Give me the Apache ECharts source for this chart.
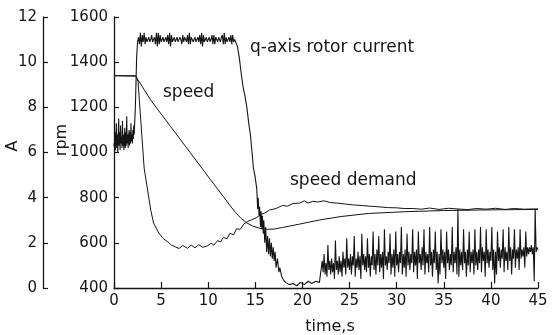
<!DOCTYPE html>
<html>
<head>
<meta charset="utf-8">
<script src="https://cdn.jsdelivr.net/npm/echarts@6/dist/echarts.min.js"></script>
<style>
  html, body { margin: 0; padding: 0; background: #fff; }
  #chart { width: 552px; height: 335px; }
</style>
</head>
<body>
<div id="chart"></div>
<script>
// axis ticks
const timeTicks = { min: 0, max: 45, interval: 5 };
const rpmTicks = { min: 400, max: 1600, interval: 200 };
const ampTicks = { min: 0, max: 12, interval: 2 };

// speed (rpm)
const speedT = [0, 2.3, 3.9, 6, 8.1, 10.2, 11.6, 12.3, 12.9, 13.5, 14.1, 14.7, 15.4, 16.2, 17.0, 17.9, 19.7, 21.8, 24, 27, 31, 35, 40, 45];
const speedV = [1340, 1338, 1232, 1115, 999, 882, 805, 766, 734, 708, 688, 675, 665, 660, 661, 668, 683, 701, 716, 730, 738, 743, 746, 748];

// speed demand (rpm)
const demandT = [0, 2.3, 2.55, 3.2, 3.9, 4.2, 4.75, 5.2, 5.7, 6.1, 6.5, 6.9, 7.3, 7.8, 8.2, 8.6, 9.0, 9.4, 9.9, 10.3,
  10.6, 11.0, 11.3, 11.6, 12.0, 12.3, 12.7, 13.0, 13.4, 13.8, 14.2, 14.6, 15.15, 15.6, 16.0, 16.5, 17.2, 17.9, 18.4, 19.0,
  19.7, 20.2, 20.6, 21.1, 21.6, 22.3, 23, 23.7, 24.5, 25.4, 26.4, 27.2, 28, 29, 30, 30.8, 31.7, 32.6, 33.5, 34.5,
  35.5, 36.5, 37.5, 38.5, 39.5, 40.5, 41.5, 42.5, 43.5, 44.5, 45];
const demandV = [1340, 1340, 1315, 931, 745, 688, 643, 620, 604, 590, 582, 575, 588, 576, 590, 578, 592, 580, 586, 598,
  590, 610, 604, 624, 618, 642, 636, 662, 660, 684, 695, 702, 712, 726, 732, 745, 752, 766, 762, 774,
  776, 786, 776, 784, 781, 786, 778, 776, 772, 768, 765, 762, 760, 756, 755, 752, 752, 749, 754, 748,
  753, 750, 747, 752, 749, 753, 748, 752, 749, 750, 750];

// q-axis rotor current (A), sampled pieces
const currentPreStep = 0.05; // t = 0 .. 2.25
const currentPre = [6.4, 6.2, 6.9, 6.1, 6.6, 7.3, 6.2, 6.8, 6.0, 6.7, 7.5, 6.3, 6.9, 6.1, 7.2, 6.4, 6.7, 6.2, 7.4, 6.3,
  6.8, 6.1, 6.6, 7.1, 6.2, 6.9, 6.3, 7.6, 6.4, 6.8, 6.2, 6.7, 7.0, 6.3, 6.9, 6.4, 7.3, 6.5, 6.8, 6.4,
  7.0, 6.6, 7.2, 6.8, 7.4, 7.8];
const currentRiseT = [2.3, 2.4, 2.5];
const currentRiseV = [8.5, 10.2, 10.9];
const currentPlateauStart = 2.6; // step 0.1
const currentPlateau = [
  11.1, 10.8, 11.3, 10.7, 11.2, 10.9, 11.3, 10.8, 11.1, 10.9,
  11.0, 11.1, 10.9, 11.0, 11.2, 10.9, 11.0, 11.1, 10.8, 11.3,
  10.7, 11.3, 10.8, 11.2, 10.9, 11.0, 11.1, 10.9, 11.0, 11.1,
  10.9, 11.2, 10.8, 11.3, 10.7, 11.2, 10.9, 11.0, 11.1, 10.9,
  11.0, 11.1, 10.9, 11.0, 11.1, 11.0, 10.8, 11.2, 10.9, 11.1,
  11.0, 10.9, 11.2, 10.8, 11.3, 10.8, 11.1, 11.0, 10.9, 11.0,
  11.1, 10.9, 11.0, 11.1, 10.9, 11.2, 10.8, 11.3, 10.7, 11.2,
  10.9, 11.0, 11.1, 10.9, 11.0, 11.1, 10.9, 11.0, 11.2, 10.8,
  11.2, 10.8, 11.1, 11.0, 10.9, 11.1, 11.0, 10.9, 11.1, 11.2,
  10.8, 11.3, 10.8, 11.1, 10.9, 11.0, 11.1, 10.9, 11.2, 10.8,
  11.2, 10.9, 11.0];
const currentFallT = [12.9, 13.1, 13.3, 13.5, 13.7, 13.9, 14.1, 14.3, 14.5, 14.65, 14.8, 14.95, 15.05, 15.15, 15.25,
  15.3, 15.4, 15.45, 15.55, 15.6, 15.7, 15.75, 15.85, 15.9, 16.0, 16.1, 16.2, 16.3, 16.4, 16.5,
  16.6, 16.7, 16.8, 16.9, 17.0, 17.1, 17.2, 17.35, 17.5, 17.6, 17.8, 18.0, 18.2, 18.4];
const currentFallV = [11.0, 10.7, 10.2, 9.5, 8.9, 8.5, 8.0, 7.3, 6.7, 6.0, 5.3, 5.0, 4.7, 4.4, 3.5,
  4.0, 3.2, 3.6, 2.7, 3.4, 2.6, 3.2, 2.4, 3.0, 2.0, 2.7, 1.6, 2.3, 1.5, 2.2,
  1.4, 2.0, 1.3, 1.8, 1.2, 1.6, 0.9, 1.3, 0.7, 0.9, 0.5, 0.35, 0.25, 0.2];
const currentLowT = [18.6, 19.0, 19.4, 19.8, 20.2, 20.6, 21.0, 21.4, 21.8];
const currentLowV = [0.15, 0.2, 0.1, 0.25, 0.15, 0.3, 0.2, 0.3, 0.25];
const currentTailStart = 22.0; // step 0.1, to 45.0
const currentTail = [
  0.3, 1.2, 0.7, 1.5, 0.6, 1.1, 0.5, 1.9, 0.8, 1.2,
  0.6, 1.3, 0.7, 1.1, 0.4, 2.1, 0.8, 1.2, 0.6, 1.4,
  0.7, 1.2, 0.5, 1.6, 0.9, 1.3, 0.6, 2.2, 0.9, 1.3,
  0.8, 1.5, 0.6, 1.4, 1.0, 2.3, 0.5, 1.3, 0.9, 1.6,
  0.8, 1.4, 0.4, 2.4, 1.0, 1.5, 0.8, 1.4, 0.7, 2.2,
  0.9, 1.5, 0.5, 1.4, 1.0, 2.5, 0.8, 1.5, 0.6, 1.7,
  1.0, 2.3, 0.7, 1.5, 0.9, 1.6, 0.4, 2.6, 1.0, 1.4,
  0.8, 1.6, 1.1, 2.4, 0.6, 1.5, 0.9, 1.7, 0.5, 2.5,
  1.0, 1.5, 0.7, 1.6, 1.1, 2.7, 0.6, 1.5, 0.9, 1.7,
  0.5, 2.4, 1.0, 1.6, 0.8, 1.5, 1.1, 2.6, 0.7, 1.6,
  1.0, 1.7, 0.4, 2.5, 1.1, 1.5, 0.8, 1.8, 1.0, 2.6,
  0.6, 1.6, 1.1, 1.5, 0.7, 2.7, 1.0, 1.6, 0.5, 1.7,
  1.1, 2.5, 0.8, 1.6, 0.2, 1.5, 0.6, 2.6, 1.1, 1.7,
  0.9, 1.6, 0.4, 2.5, 1.1, 1.7, 0.8, 1.5, 1.0, 2.7,
  0.7, 1.6, 1.1, 1.8, 0.6, 3.5, 0.5, 1.7, 1.0, 1.6,
  0.8, 2.6, 1.1, 1.6, 0.5, 1.7, 1.0, 2.5, 0.7, 1.6,
  1.1, 1.7, 0.6, 2.6, 1.0, 1.6, 0.8, 1.7, 1.1, 2.7,
  0.7, 1.8, 1.2, 1.6, 0.5, 2.6, 1.1, 1.7, 0.9, 1.6,
  1.2, 2.7, 0.8, 1.7, 0.2, 1.6, 0.6, 2.5, 1.2, 1.8,
  0.9, 1.7, 1.3, 2.6, 0.7, 1.8, 1.2, 1.6, 0.8, 2.7,
  1.2, 1.8, 0.6, 1.7, 1.3, 2.6, 0.9, 1.7, 1.3, 1.8,
  0.8, 2.6, 1.3, 1.7, 1.4, 1.8, 0.9, 2.5, 1.4, 1.8,
  1.5, 1.8, 1.6, 1.9, 1.5, 1.8, 0.3, 3.5, 1.6, 1.8, 1.7];

const pairs = (ts, vs) => ts.map((t, i) => [t, vs[i]]);
const stepped = (t0, dt, vs) => vs.map((v, i) => [+(t0 + i * dt).toFixed(3), v]);

const currentData = [
  ...stepped(0, currentPreStep, currentPre),
  ...pairs(currentRiseT, currentRiseV),
  ...stepped(currentPlateauStart, 0.1, currentPlateau),
  ...pairs(currentFallT, currentFallV),
  ...pairs(currentLowT, currentLowV),
  ...stepped(currentTailStart, 0.1, currentTail)
];

const ink = "#151515";
const font = "DejaVu Sans";

const axisCommon = {
  axisLine: { show: true, lineStyle: { color: ink, width: 1.3 } },
  axisTick: { show: true, inside: true, length: 5, lineStyle: { color: ink, width: 1.2 } },
  axisLabel: { color: ink, fontSize: 15, fontFamily: font, margin: 6, formatter: (v) => String(v) },
  splitLine: { show: false }
};

const chart = echarts.init(document.getElementById("chart"));

chart.setOption({
  animation: false,
  backgroundColor: "#fff",
  grid: { left: 114, right: 14, top: 17, bottom: 47 },
  xAxis: {
    type: "value",
    ...timeTicks,
    ...axisCommon,
    axisTick: { ...axisCommon.axisTick, length: 6 }
  },
  yAxis: [
    {
      type: "value",
      position: "left",
      ...rpmTicks,
      ...axisCommon
    },
    {
      type: "value",
      position: "left",
      offset: 71,
      ...ampTicks,
      ...axisCommon
    }
  ],
  graphic: [
    { type: "text", x: 13, y: 146, rotation: Math.PI / 2,
      style: { text: "A", fill: ink, fontSize: 16, fontFamily: font, align: "center", verticalAlign: "middle" } },
    { type: "text", x: 62, y: 140, rotation: Math.PI / 2,
      style: { text: "rpm", fill: ink, fontSize: 16, fontFamily: font, align: "center", verticalAlign: "middle" } },
    { type: "text", x: 330, y: 327,
      style: { text: "time,s", fill: ink, fontSize: 16, fontFamily: font, align: "center", verticalAlign: "middle" } },
    { type: "text", x: 250, y: 48,
      style: { text: "q-axis rotor current", fill: ink, fontSize: 17, fontFamily: font, align: "left", verticalAlign: "middle" } },
    { type: "text", x: 163, y: 93,
      style: { text: "speed", fill: ink, fontSize: 17, fontFamily: font, align: "left", verticalAlign: "middle" } },
    { type: "text", x: 290, y: 181,
      style: { text: "speed demand", fill: ink, fontSize: 17, fontFamily: font, align: "left", verticalAlign: "middle" } }
  ],
  series: [
    {
      name: "q-axis rotor current",
      type: "line",
      yAxisIndex: 1,
      data: currentData,
      symbol: "none",
      lineStyle: { color: ink, width: 1.1 }
    },
    {
      name: "speed",
      type: "line",
      yAxisIndex: 0,
      data: pairs(speedT, speedV),
      symbol: "none",
      lineStyle: { color: ink, width: 1 }
    },
    {
      name: "speed demand",
      type: "line",
      yAxisIndex: 0,
      data: pairs(demandT, demandV),
      symbol: "none",
      lineStyle: { color: ink, width: 1 }
    }
  ]
});
</script>
</body>
</html>
